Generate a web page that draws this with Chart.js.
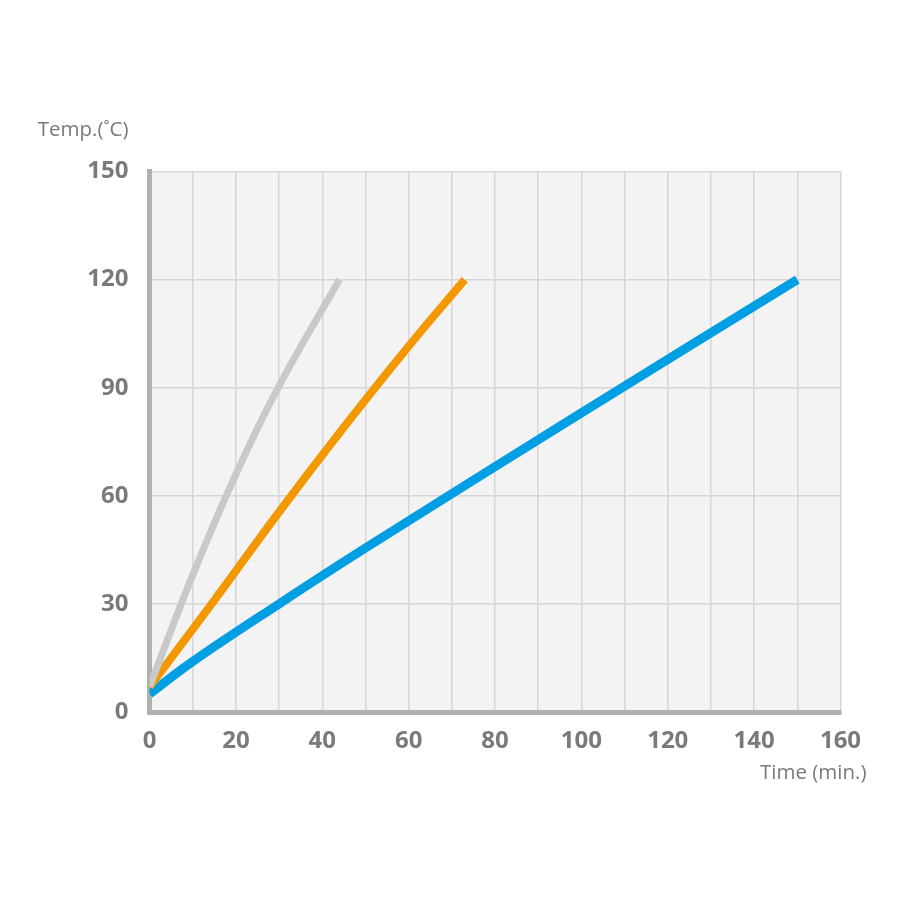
<!DOCTYPE html>
<html>
<head>
<meta charset="utf-8">
<title>Temp / Time</title>
<script src="https://cdn.jsdelivr.net/npm/chart.js@4"></script>
<style>
    html, body { margin: 0; padding: 0; background: #ffffff; }
    #grafica { display: block; }
</style>
</head>
<body>
<canvas id="grafica" width="900" height="900"></canvas>
<script>
// Datos de las curvas (tiempo en min, temperatura en C)
const grayTime = [0, 10, 20, 30, 44];
const grayTemp = [7, 38, 66, 90.5, 120];

const orangeTime = [0, 15, 30, 45, 60, 73];
const orangeTemp = [7, 31, 55.5, 79, 101.5, 120];

const blueTime = [0, 10, 30, 50, 100, 150];
const blueTemp = [5, 14, 30, 45.5, 83, 120];

// Ticks de los ejes
const xTicks = [0, 20, 40, 60, 80, 100, 120, 140, 160];
const yTicks = [0, 30, 60, 90, 120, 150];

const yTitle = "Temp.(˚C)";
const xTitle = "Time (min.)";

// juntar x e y para chart.js
function puntos(xs, ys) {
    return xs.map((x, i) => ({ x: x, y: ys[i] }));
}

const textColor = "#7a7a7a";
const fontFamily = "'Open Sans', 'Noto Sans', sans-serif";

// fondo gris del area y titulos de los ejes
const fondoPlugin = {
    id: "fondo",
    beforeDraw(chart) {
        const { ctx, chartArea } = chart;
        ctx.save();
        ctx.fillStyle = "#f3f3f3";
        ctx.fillRect(chartArea.left, chartArea.top, chartArea.right - chartArea.left, chartArea.bottom - chartArea.top);
        ctx.restore();
    },
    afterDraw(chart) {
        const { ctx, chartArea } = chart;
        ctx.save();
        ctx.fillStyle = textColor;
        ctx.font = "20.5px " + fontFamily;
        ctx.textBaseline = "middle";
        ctx.textAlign = "right";
        ctx.fillText(yTitle, chartArea.left - 21, chartArea.top - 41);
        ctx.fillText(xTitle, chartArea.right + 26, chartArea.bottom + 61);
        ctx.restore();
    },
};

const chart = new Chart(document.getElementById("grafica").getContext("2d"), {
    type: "line",
    data: {
        datasets: [
            {
                label: "gray",
                data: puntos(grayTime, grayTemp),
                borderColor: "#c9c9c9",
                borderWidth: 7,
                borderCapStyle: "butt",
                pointRadius: 0,
                tension: 0.4,
            },
            {
                label: "orange",
                data: puntos(orangeTime, orangeTemp),
                borderColor: "#f39800",
                borderWidth: 8,
                borderCapStyle: "butt",
                pointRadius: 0,
                tension: 0.4,
            },
            {
                label: "blue",
                data: puntos(blueTime, blueTemp),
                borderColor: "#009fe3",
                borderWidth: 9,
                borderCapStyle: "butt",
                pointRadius: 0,
                tension: 0.4,
            },
        ],
    },
    options: {
        responsive: false,
        animation: false,
        layout: {
            padding: { top: 171.5, right: 59.5, bottom: 128, left: 49.5 },
        },
        plugins: {
            legend: { display: false },
            tooltip: { enabled: false },
        },
        scales: {
            x: {
                type: "linear",
                min: 0,
                max: 160,
                afterFit(scale) {
                    scale.height = 60;
                },
                afterBuildTicks(scale) {
                    // lineas cada 10, etiquetas cada 20
                    const t = [];
                    for (let v = 0; v <= 160; v += 10) t.push({ value: v });
                    scale.ticks = t;
                },
                grid: { color: "#d6d6d6", lineWidth: 1.5, drawTicks: false },
                border: { display: true, color: "#b0b0b0", width: 5 },
                ticks: {
                    padding: 15,
                    color: textColor,
                    font: { family: fontFamily, size: 24, weight: "bold" },
                    autoSkip: false,
                    maxRotation: 0,
                    callback: (v) => (xTicks.includes(v) ? String(v) : ""),
                },
            },
            y: {
                min: 0,
                max: 150,
                afterFit(scale) {
                    scale.width = 100;
                },
                afterBuildTicks(scale) {
                    scale.ticks = yTicks.map((v) => ({ value: v }));
                },
                grid: { color: "#d6d6d6", lineWidth: 1.5, drawTicks: false },
                border: { display: true, color: "#b0b0b0", width: 5 },
                ticks: {
                    padding: 21,
                    color: textColor,
                    font: { family: fontFamily, size: 24, weight: "bold" },
                },
            },
        },
    },
    plugins: [fondoPlugin],
});
</script>
</body>
</html>
